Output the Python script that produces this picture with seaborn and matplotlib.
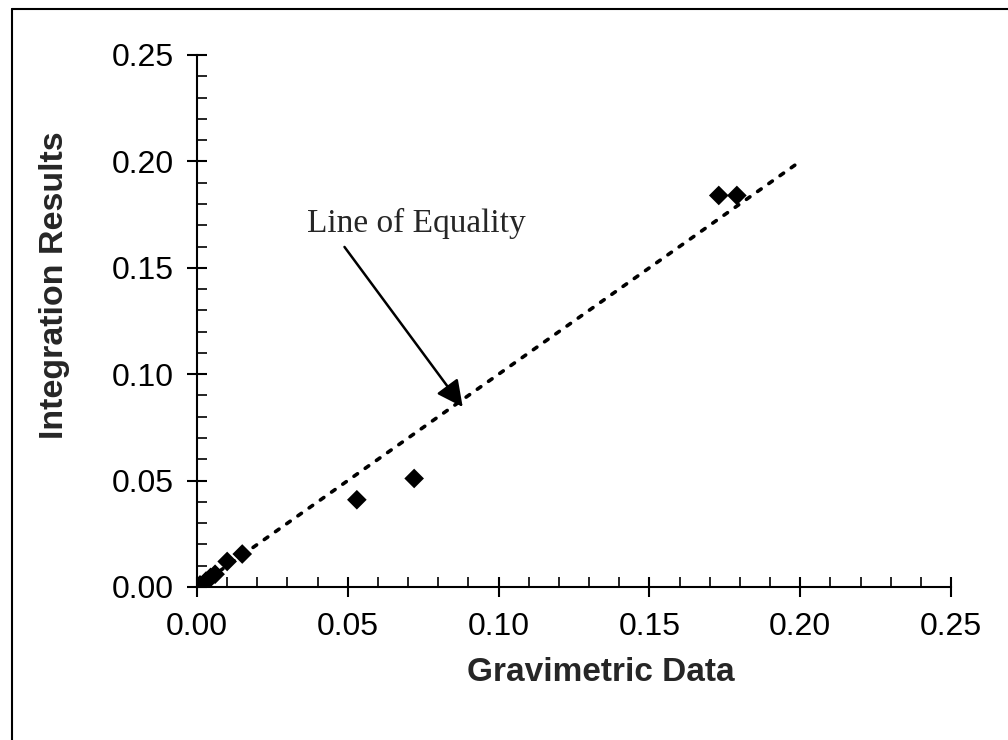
import matplotlib
matplotlib.use("Agg")
import matplotlib.pyplot as plt
import seaborn as sns
import numpy as np
import pandas as pd
from matplotlib.ticker import MultipleLocator, FormatStrFormatter
from matplotlib.lines import Line2D

# ---- data ----
gravimetric = [0.001, 0.003, 0.0045, 0.006, 0.010, 0.015, 0.053, 0.072, 0.173, 0.179]
integration = [0.001, 0.0028, 0.0045, 0.006, 0.012, 0.0155, 0.041, 0.051, 0.184, 0.184]
equality_x = [0.0, 0.2]
equality_y = [0.0, 0.2]
ticks = [0.00, 0.05, 0.10, 0.15, 0.20, 0.25]
annot_text = "Line of Equality"
annot_text_pos = (0.0365, 0.1668)
annot_tail = (0.0489, 0.1598)
annot_head = (0.0881, 0.0846)

sns.set_style("ticks")
plt.rcParams['font.family'] = ['Liberation Sans', 'DejaVu Sans']

fig = plt.figure(figsize=(10.08, 7.40), dpi=100)
ax = fig.add_axes([197/1008, 1-587/740, (951-197)/1008, (587-55)/740])

df = pd.DataFrame({"Gravimetric Data": gravimetric, "Integration Results": integration})
eq = pd.DataFrame({"x": equality_x, "y": equality_y})

sns.lineplot(data=eq, x="x", y="y", ax=ax, color="black", lw=2.6,
             linestyle=(0, (1.2, 2.6)), dash_capstyle="round")
sns.scatterplot(data=df, x="Gravimetric Data", y="Integration Results", ax=ax,
                marker="D", s=100, color="black", edgecolor="none", zorder=5)

ax.set_xlim(0, 0.25)
ax.set_ylim(0, 0.25)
ax.set_xticks(ticks)
ax.set_yticks(ticks)
ax.xaxis.set_major_formatter(FormatStrFormatter('%.2f'))
ax.yaxis.set_major_formatter(FormatStrFormatter('%.2f'))
ax.xaxis.set_minor_locator(MultipleLocator(0.01))
ax.yaxis.set_minor_locator(MultipleLocator(0.01))

for s in ["top", "right"]:
    ax.spines[s].set_visible(False)
for s in ["left", "bottom"]:
    ax.spines[s].set_linewidth(1.5)
    ax.spines[s].set_color("black")

ax.tick_params(which="major", direction="inout", length=14, width=1.5,
               labelsize=23, colors="black")
ax.tick_params(axis="x", which="major", pad=11)
ax.tick_params(axis="y", which="major", pad=10)
ax.tick_params(which="minor", direction="in", length=7, width=1.2, colors="black")

ax.set_xlabel("Gravimetric Data", fontsize=24, fontweight="bold")
ax.set_ylabel("Integration Results", fontsize=24.5, fontweight="bold")
ax.xaxis.set_label_coords((601-197)/754, (587-657)/532)
ax.yaxis.set_label_coords((70-197)/754, (587-285)/532)

ax.text(annot_text_pos[0], annot_text_pos[1], annot_text, fontsize=24,
        family=['Liberation Serif', 'DejaVu Serif'], ha="left", va="baseline")
ax.annotate("", xy=annot_head, xytext=annot_tail,
            arrowprops=dict(arrowstyle="-|>", mutation_scale=40, lw=1.8,
                            color="black", shrinkA=0, shrinkB=0))

# outer frame lines (left and top visible in reference)
fig.add_artist(Line2D([12/1008, 12/1008], [0, 1-9/740], transform=fig.transFigure,
                      color="black", lw=1.5))
fig.add_artist(Line2D([12/1008, 1], [1-9/740, 1-9/740], transform=fig.transFigure,
                      color="black", lw=1.5))

fig.savefig("out.png", dpi=100)
